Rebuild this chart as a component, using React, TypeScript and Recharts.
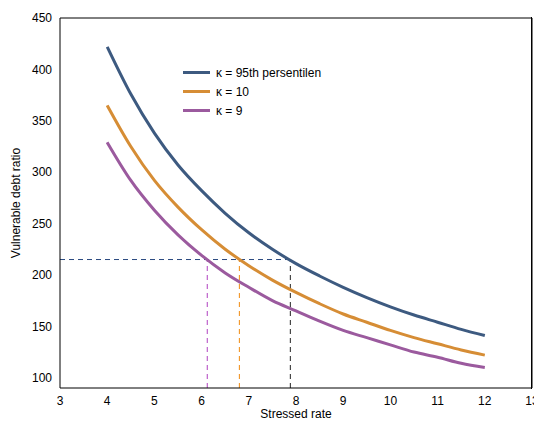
import { LineChart, Line, XAxis, YAxis, ReferenceLine } from 'recharts'

const rates = [4, 4.5, 5, 5.5, 6, 6.5, 7, 7.5, 8, 8.5, 9, 9.5, 10, 10.5, 11, 11.5, 12]
const kappa95 = [422, 376, 338, 307, 282, 260, 241, 225, 211, 199, 188, 178, 169, 161, 154, 147, 141]
const kappa10 = [365, 325, 292, 266, 244, 225, 209, 195, 183, 172, 162, 154, 146, 139, 133, 127, 122]
const kappa9 = [329, 292, 263, 239, 219, 202, 188, 175, 165, 155, 146, 139, 132, 125, 120, 114, 110]
const xTicks = [3, 4, 5, 6, 7, 8, 9, 10, 11, 12, 13]
const yTicks = [100, 150, 200, 250, 300, 350, 400, 450]
const threshold = 215
const crossings = [
  { x: 6.12, color: '#b040c0' },
  { x: 6.8, color: '#f08a10' },
  { x: 7.88, color: '#222' },
]

const data = rates.map((r, i) => ({ r, k95: kappa95[i], k10: kappa10[i], k9: kappa9[i] }))

const series = [
  { key: 'k95', name: 'κ = 95th persentilen', color: '#3d5a80' },
  { key: 'k10', name: 'κ = 10', color: '#d68d35' },
  { key: 'k9', name: 'κ = 9', color: '#9b5a9e' },
]

const fontFamily = 'Liberation Sans, Arial, sans-serif'

export default function App() {
  const font = { fontSize: 12, fill: '#000', fontFamily }
  return (
    <div style={{ position: 'relative', width: 534, height: 410 }}>
      <LineChart width={534} height={410} data={data} margin={{ top: 9, right: 9, left: 0, bottom: 0 }}>
        <XAxis dataKey="r" type="number" domain={[3, 13]} ticks={xTicks} tick={font} tickLine={false}
          stroke="#000" height={30} interval={0}
          label={{ value: 'Stressed rate', position: 'insideBottom', offset: 0, ...font }} />
        <XAxis xAxisId="top" orientation="top" type="number" domain={[3, 13]} ticks={xTicks} tick={false}
          tickLine={false} axisLine={{ stroke: '#000' }} height={1} />
        <YAxis domain={[90, 450]} ticks={yTicks} tick={font} tickLine={false} stroke="#000" width={52}
          label={{ value: 'Vulnerable debt ratio', angle: -90, position: 'insideLeft', offset: 8, style: { textAnchor: 'middle', ...font } }} />
        <YAxis yAxisId="right" orientation="right" domain={[90, 450]} ticks={yTicks} tick={false}
          tickLine={false} axisLine={{ stroke: '#000' }} width={1} />
        <ReferenceLine segment={[{ x: 3, y: threshold }, { x: 7.88, y: threshold }]} stroke="#2a4a80" strokeDasharray="5 4" />
        {crossings.map((c) => (
          <ReferenceLine key={c.x} segment={[{ x: c.x, y: 90 }, { x: c.x, y: threshold }]} stroke={c.color} strokeDasharray="5 4" />
        ))}
        {series.map((s) => (
          <Line key={s.key} dataKey={s.key} name={s.name} stroke={s.color} strokeWidth={3} dot={false}
            type="monotone" isAnimationActive={false} />
        ))}
      </LineChart>
      <div style={{ position: 'absolute', left: 523, top: 9, width: 1, height: 372, background: '#000', pointerEvents: 'none' }} />
      <div style={{ position: 'absolute', left: 175, top: 55, fontSize: 12, fontFamily }}>
        {series.map((s) => (
          <div key={s.key} style={{ display: 'flex', alignItems: 'center', height: 19 }}>
            <span style={{ width: 27, height: 3, background: s.color, marginRight: 6 }} />
            {s.name}
          </div>
        ))}
      </div>
    </div>
  )
}
